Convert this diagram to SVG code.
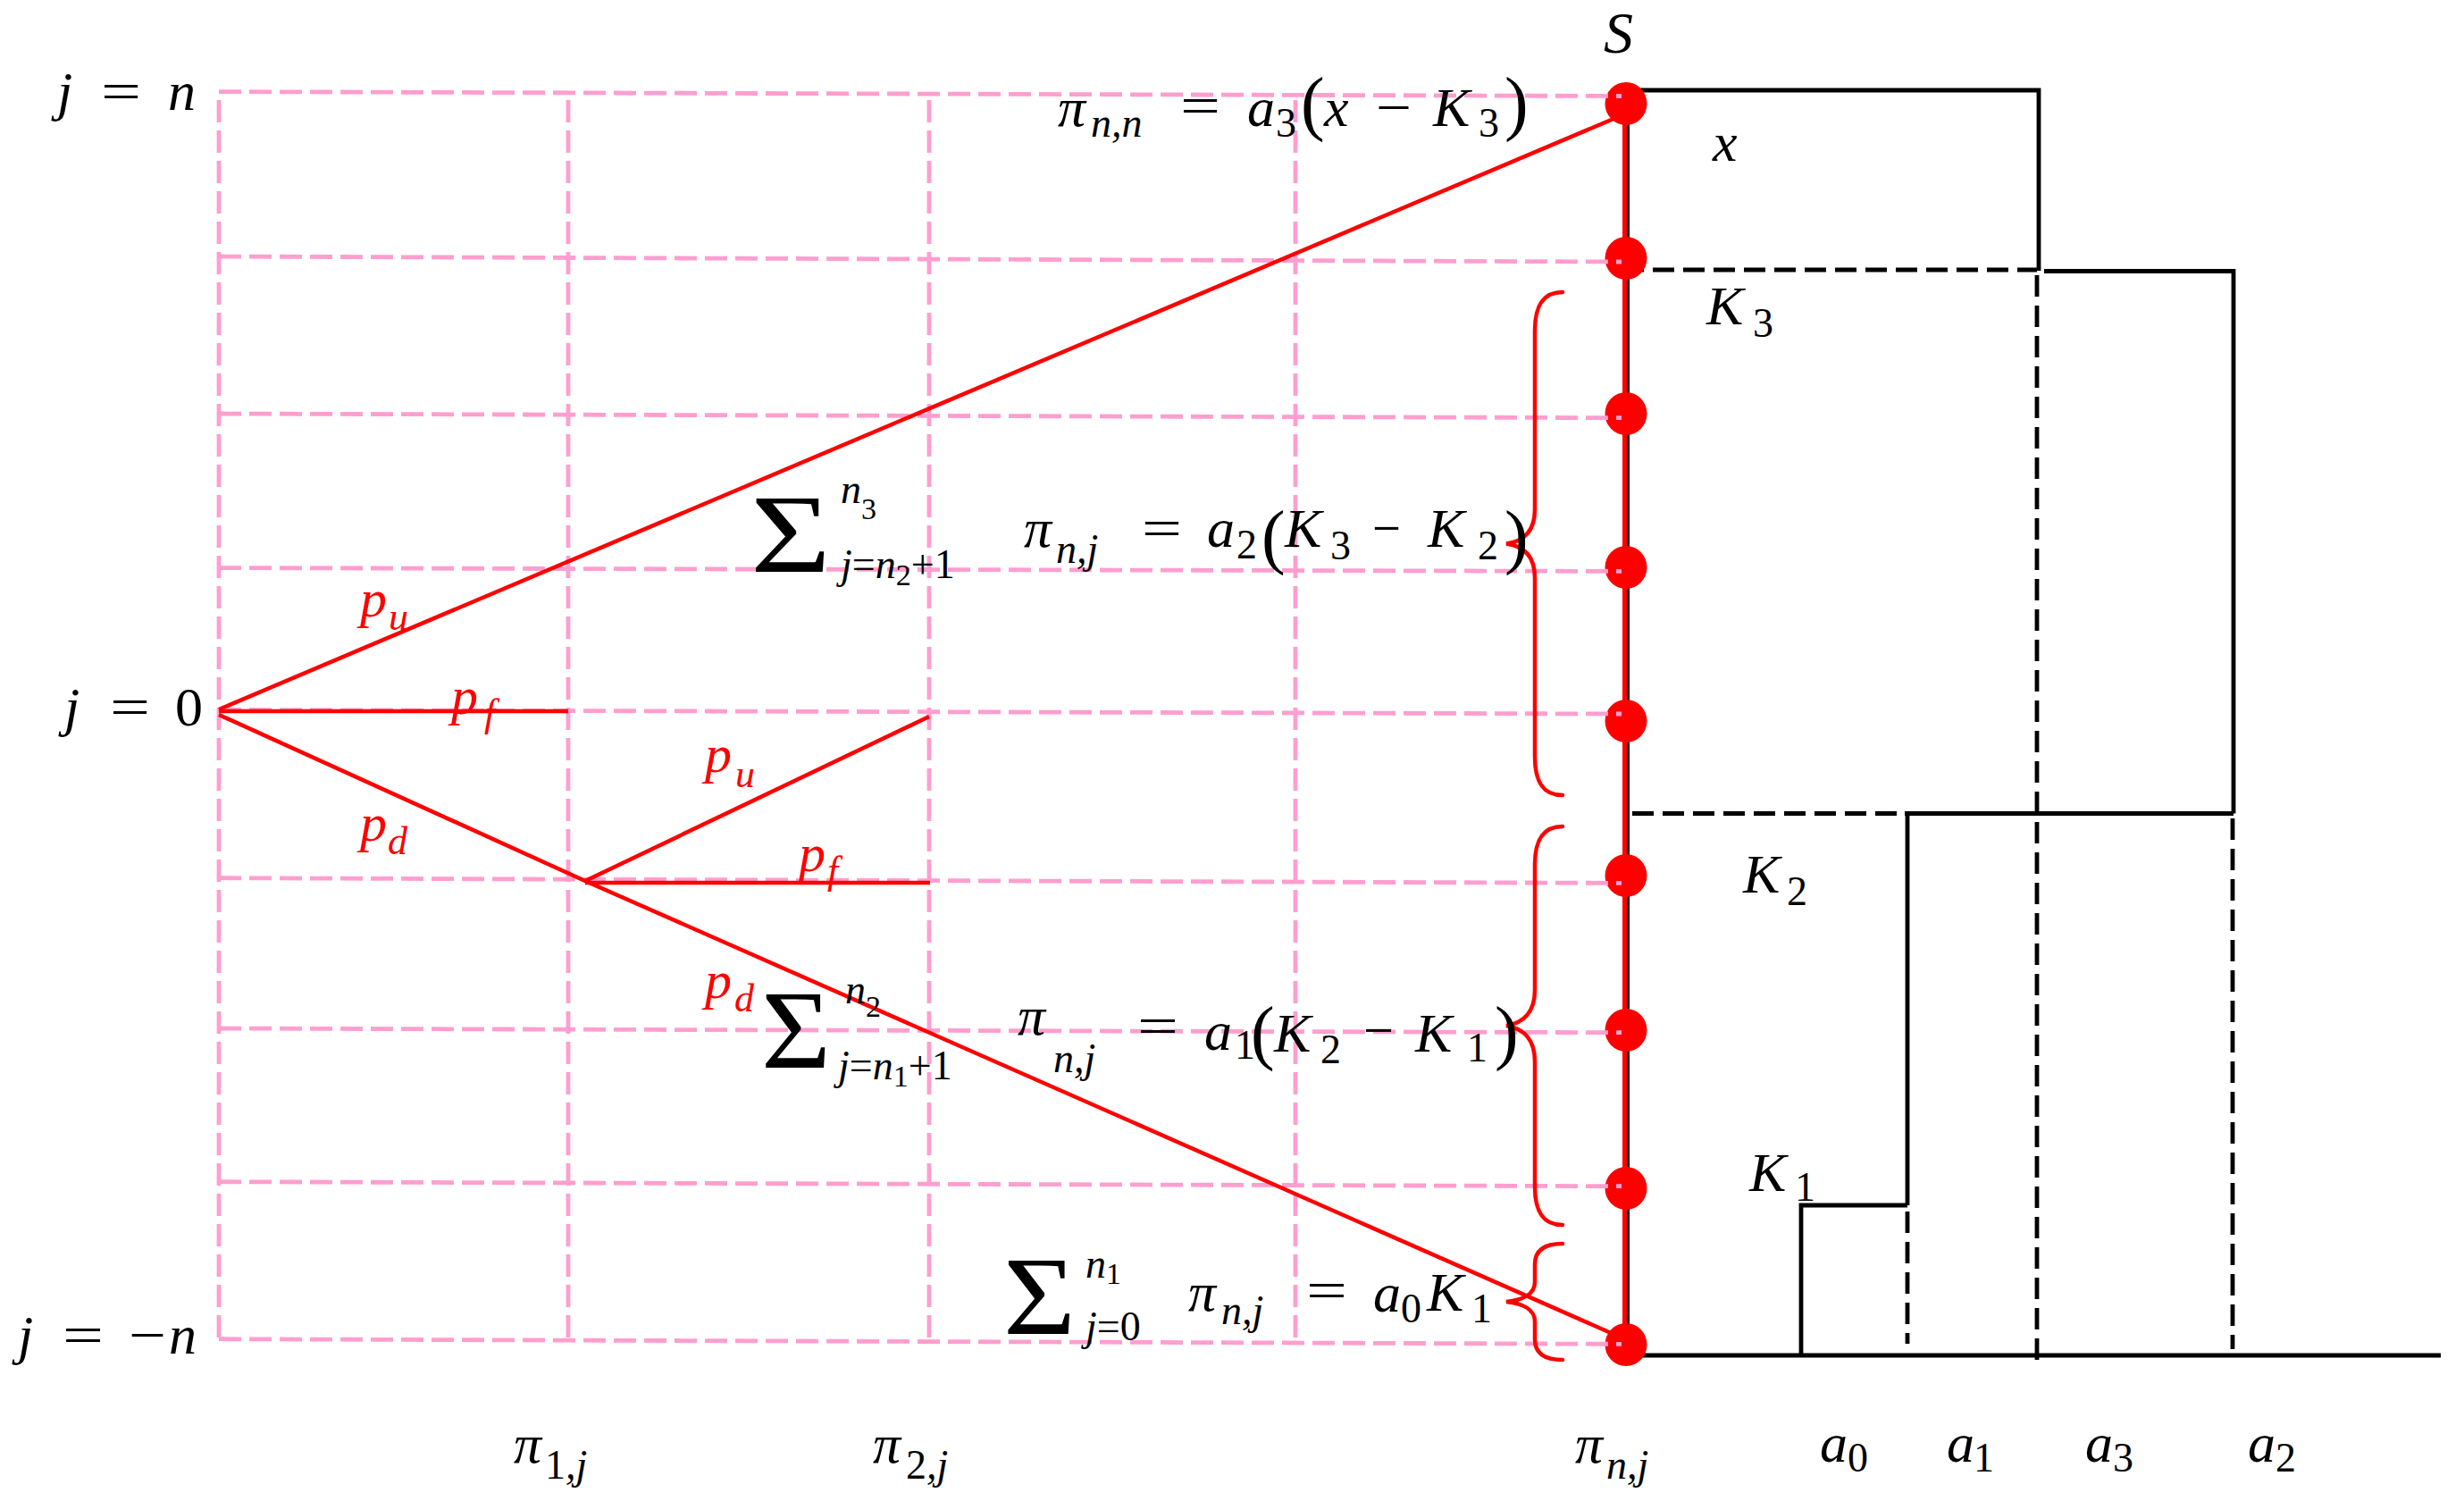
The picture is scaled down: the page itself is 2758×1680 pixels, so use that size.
<svg xmlns="http://www.w3.org/2000/svg" width="2758" height="1680" viewBox="0 0 2758 1680">
<style>
.bg{fill:#ffffff}
.pk{stroke:#FF9ECF;stroke-width:4.8;stroke-dasharray:25 9;fill:none}
.rl{stroke:#FF0000;stroke-width:4.5;fill:none;stroke-linejoin:round}
.br{stroke:#FF0000;stroke-width:4.5;fill:none;stroke-linecap:round}
.dot{fill:#FF0000}
.bk{stroke:#000;stroke-width:4.8;fill:none}
.bkd{stroke:#000;stroke-width:4.8;fill:none;stroke-dasharray:24 10}
text{font-family:"Times New Roman","Liberation Serif","DejaVu Serif",serif}
.i{font-style:italic;font-size:62px;fill:#000}
.u{font-style:normal;font-size:62px;fill:#000}
.si{font-style:italic;font-size:46px;fill:#000}
.su{font-style:normal;font-size:46px;fill:#000}
.ssu{font-style:normal;font-size:34px;fill:#000}
.pr{font-style:normal;font-size:80px;fill:#000}
.sg{font-style:normal;font-size:124px;fill:#000}
.ri{font-style:italic;font-size:60px;fill:#FF0000}
.rs{font-style:italic;font-size:44px;fill:#FF0000}
</style>
<rect class="bg" x="0" y="0" width="2758" height="1680"/>

<!-- step chart (black) -->
<g id="steps">
  <line class="bk" x1="1822.5" y1="116" x2="1822.5" y2="1505" style="stroke-width:3"/>
  <path class="bk" d="M1820 101 H2282 V303"/>
  <path class="bkd" d="M1816 302 H2280"/>
  <path class="bk" d="M2288 303.5 H2500 V910.5"/>
  <path class="bkd" d="M2280 308 V1530"/>
  <path class="bkd" d="M1827 910.5 H2124"/>
  <path class="bk" d="M2132 910.5 H2500"/>
  <path class="bk" d="M2135 910.5 V1349"/>
  <path class="bkd" d="M2135 1356 V1504"/>
  <path class="bkd" d="M2499 916 V1510"/>
  <path class="bk" d="M2016 1517 V1349 H2135"/>
  <path class="bk" d="M1820 1517 H2732"/>
</g>

<!-- red vertical at S -->
<line class="rl" x1="1818.5" y1="116" x2="1818.5" y2="1505" style="stroke-width:5"/>

<!-- price nodes -->
<g id="nodes">
  <g id="node-n"><ellipse class="dot" cx="1820" cy="116" rx="23.5" ry="24"/></g>
  <g id="node-n1"><ellipse class="dot" cx="1820" cy="289" rx="23.5" ry="24"/></g>
  <g id="node-n2"><ellipse class="dot" cx="1820" cy="463" rx="23.5" ry="24"/></g>
  <g id="node-n3"><ellipse class="dot" cx="1820" cy="635" rx="23.5" ry="24"/></g>
  <g id="node-n4"><ellipse class="dot" cx="1820" cy="807" rx="23.5" ry="24"/></g>
  <g id="node-n5"><ellipse class="dot" cx="1820" cy="980" rx="23.5" ry="24"/></g>
  <g id="node-n6"><ellipse class="dot" cx="1820" cy="1153" rx="23.5" ry="24"/></g>
  <g id="node-n7"><ellipse class="dot" cx="1820" cy="1330" rx="23.5" ry="24"/></g>
  <g id="node-n8"><ellipse class="dot" cx="1820" cy="1505" rx="23.5" ry="24"/></g>
</g>

<!-- pink grid -->
<g id="grid">
  <line class="pk" x1="245" y1="102.6" x2="1815" y2="107.5"/>
  <line class="pk" x1="245" y1="287" x2="1815" y2="293"/>
  <line class="pk" x1="245" y1="463" x2="1815" y2="467.7"/>
  <line class="pk" x1="245" y1="635.6" x2="1815" y2="639.4"/>
  <line class="pk" x1="245" y1="794.4" x2="1815" y2="799"/>
  <line class="pk" x1="245" y1="982.7" x2="1815" y2="988.4"/>
  <line class="pk" x1="245" y1="1151" x2="1815" y2="1155.7"/>
  <line class="pk" x1="245" y1="1322.7" x2="1815" y2="1327.7"/>
  <line class="pk" x1="245" y1="1498.7" x2="1815" y2="1504.3"/>
  <line class="pk" x1="245" y1="112" x2="245" y2="1500"/>
  <line class="pk" x1="636" y1="112" x2="636" y2="1502"/>
  <line class="pk" x1="1040" y1="112" x2="1040" y2="1506"/>
  <line class="pk" x1="1450" y1="112" x2="1450" y2="1506"/>
</g>

<!-- tree connectors -->
<g id="connectors">
  <line class="rl" x1="245" y1="794" x2="1806" y2="133"/>
  <line class="rl" x1="245" y1="796" x2="636" y2="796"/>
  <polyline class="rl" points="245,800 655,986 1810,1495"/>
  <line class="rl" x1="655" y1="986" x2="1040" y2="802"/>
  <line class="rl" x1="655" y1="988" x2="1041" y2="988"/>
</g>

<!-- braces -->
<g id="braces">
  <path class="br" d="M1749 327 C1725 327 1718 345 1718 370 L1718 570 C1718 595 1705 606 1686 608.5 C1705 611 1718 622 1718 647 L1718 847 C1718 872 1725 890 1749 890"/>
  <path class="br" d="M1749 925 C1725 925 1718 943 1718 968 L1718 1108 C1718 1133 1705 1145 1686 1148 C1705 1151 1718 1163 1718 1188 L1718 1328 C1718 1353 1725 1371 1749 1371"/>
  <path class="br" d="M1749 1392 C1728 1392 1718 1400 1718 1415 L1718 1435 C1718 1448 1705 1455 1686 1457 C1705 1459 1718 1466 1718 1479 L1718 1499 C1718 1514 1728 1522 1749 1522"/>
</g>

<!-- probability labels -->
<g id="prob-labels">
  <text class="ri" x="403" y="690">p</text><text class="rs" x="435" y="705">u</text>
  <text class="ri" x="505" y="799">p</text><text class="rs" x="542" y="813">f</text>
  <text class="ri" x="403" y="941">p</text><text class="rs" x="434" y="956">d</text>
  <text class="ri" x="789" y="864">p</text><text class="rs" x="823" y="881">u</text>
  <text class="ri" x="894" y="975">p</text><text class="rs" x="926" y="989">f</text>
  <text class="ri" x="789" y="1117">p</text><text class="rs" x="822" y="1132">d</text>
</g>

<!-- axis labels -->
<g id="labels">
  <text class="i" x="1795" y="59" style="font-size:66px">S</text>

  <text class="i" x="64" y="123">j</text><text class="u" x="113" y="123" textLength="45" lengthAdjust="spacingAndGlyphs">=</text><text class="i" x="188" y="123">n</text>
  <text class="i" x="72" y="812">j</text><text class="u" x="123" y="812" textLength="45" lengthAdjust="spacingAndGlyphs">=</text><text class="u" x="196" y="812">0</text>
  <text class="i" x="20" y="1515">j</text><text class="u" x="70" y="1515" textLength="46" lengthAdjust="spacingAndGlyphs">=</text><text class="u" x="144" y="1515" textLength="42" lengthAdjust="spacingAndGlyphs">−</text><text class="i" x="189" y="1515">n</text>

  <text class="i" x="575" y="1637">π</text><text x="610" y="1655"><tspan class="su">1</tspan><tspan class="si">,j</tspan></text>
  <text class="i" x="977" y="1637">π</text><text x="1014" y="1655"><tspan class="su">2</tspan><tspan class="si">,j</tspan></text>
  <text class="i" x="1763" y="1637">π</text><text class="si" x="1798" y="1655">n,j</text>

  <text class="i" x="2037" y="1636">a</text><text class="su" x="2068" y="1647">0</text>
  <text class="i" x="2179" y="1636">a</text><text class="su" x="2209" y="1647">1</text>
  <text class="i" x="2334" y="1636">a</text><text class="su" x="2365" y="1647">3</text>
  <text class="i" x="2516" y="1636">a</text><text class="su" x="2547" y="1647">2</text>

  <text class="i" x="1917" y="180">x</text>
  <text class="i" x="1910" y="363">K</text><text class="su" x="1962" y="377">3</text>
  <text class="i" x="1951" y="999">K</text><text class="su" x="2000" y="1013">2</text>
  <text class="i" x="1958" y="1333">K</text><text class="su" x="2009" y="1344">1</text>
</g>

<!-- formulas -->
<g id="formula-top">
  <text class="i" x="1184" y="141">π</text><text class="si" x="1221" y="153">n,n</text>
  <text class="u" x="1321" y="139" textLength="45" lengthAdjust="spacingAndGlyphs">=</text>
  <text class="i" x="1396" y="141">a</text><text class="su" x="1428" y="153">3</text>
  <text class="pr" x="1456" y="142">(</text>
  <text class="i" x="1482" y="141">x</text>
  <text class="u" x="1540" y="141" textLength="40" lengthAdjust="spacingAndGlyphs">−</text>
  <text class="i" x="1604" y="141">K</text><text class="su" x="1655" y="153">3</text>
  <text class="pr" x="1684" y="142">)</text>
</g>

<g id="formula-a2">
  <text class="sg" x="840" y="640" textLength="90" lengthAdjust="spacingAndGlyphs">Σ</text>
  <text x="941" y="563"><tspan class="si">n</tspan><tspan class="ssu" dy="18">3</tspan></text>
  <text x="941" y="647"><tspan class="si">j</tspan><tspan class="su">=</tspan><tspan class="si">n</tspan><tspan class="ssu" dy="8">2</tspan><tspan class="su" dy="-8">+1</tspan></text>
  <text class="i" x="1146" y="612">π</text><text class="si" x="1182" y="630">n,j</text>
  <text class="u" x="1278" y="612" textLength="45" lengthAdjust="spacingAndGlyphs">=</text>
  <text class="i" x="1351" y="612">a</text><text class="su" x="1384" y="625">2</text>
  <text class="pr" x="1412" y="627">(</text>
  <text class="i" x="1438" y="612">K</text><text class="su" x="1489" y="626">3</text>
  <text class="u" x="1536" y="612" textLength="32" lengthAdjust="spacingAndGlyphs">−</text>
  <text class="i" x="1598" y="612">K</text><text class="su" x="1654" y="626">2</text>
  <text class="pr" x="1684" y="627">)</text>
</g>

<g id="formula-a1">
  <text class="sg" x="852" y="1195" textLength="78" lengthAdjust="spacingAndGlyphs">Σ</text>
  <text x="946" y="1123"><tspan class="si">n</tspan><tspan class="ssu" dy="15">2</tspan></text>
  <text x="938" y="1208"><tspan class="si">j</tspan><tspan class="su">=</tspan><tspan class="si">n</tspan><tspan class="ssu" dy="8">1</tspan><tspan class="su" dy="-8">+1</tspan></text>
  <text class="i" x="1139" y="1158">π</text><text class="si" x="1179" y="1200">n,j</text>
  <text class="u" x="1273" y="1169" textLength="46" lengthAdjust="spacingAndGlyphs">=</text>
  <text class="i" x="1348" y="1175">a</text><text class="su" x="1382" y="1185">1</text>
  <text class="pr" x="1400" y="1182">(</text>
  <text class="i" x="1426" y="1177">K</text><text class="su" x="1478" y="1190">2</text>
  <text class="u" x="1526" y="1174" textLength="34" lengthAdjust="spacingAndGlyphs">−</text>
  <text class="i" x="1584" y="1177">K</text><text class="su" x="1642" y="1188">1</text>
  <text class="pr" x="1673" y="1182">)</text>
</g>

<g id="formula-a0">
  <text class="sg" x="1123" y="1493" textLength="81" lengthAdjust="spacingAndGlyphs">Σ</text>
  <text x="1215" y="1430"><tspan class="si">n</tspan><tspan class="ssu" dy="7">1</tspan></text>
  <text x="1215" y="1500"><tspan class="si">j</tspan><tspan class="su">=0</tspan></text>
  <text class="i" x="1330" y="1467">π</text><text class="si" x="1367" y="1482">n,j</text>
  <text class="u" x="1462" y="1465" textLength="46" lengthAdjust="spacingAndGlyphs">=</text>
  <text class="i" x="1537" y="1468">a</text><text class="su" x="1568" y="1480">0</text>
  <text class="i" x="1597" y="1467">K</text><text class="su" x="1647" y="1480">1</text>
</g>
</svg>
